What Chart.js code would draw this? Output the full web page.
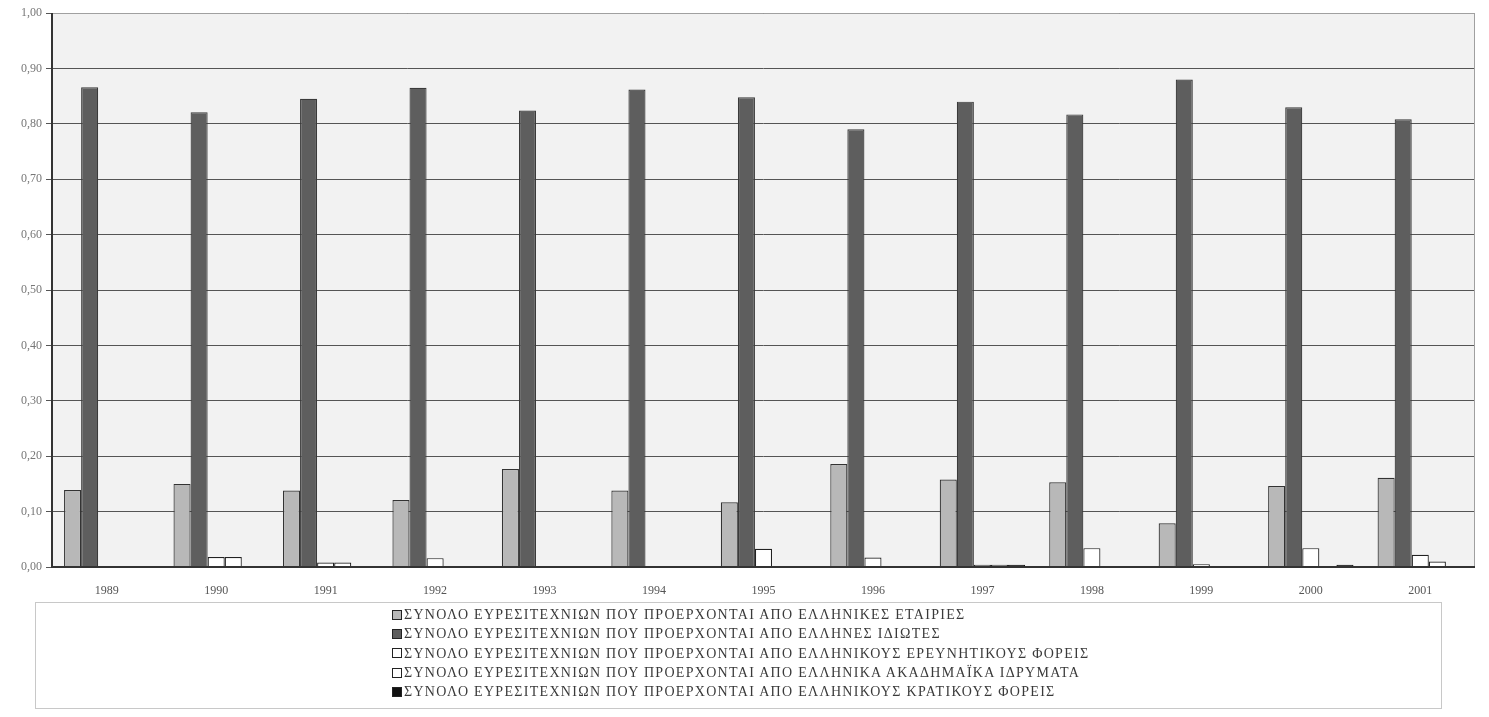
<!DOCTYPE html>
<html>
<head>
<meta charset="utf-8">
<script src="https://cdn.jsdelivr.net/npm/chart.js@4/dist/chart.umd.min.js"></script>
<style>
  html, body { margin:0; padding:0; background:#fff; }
  #wrap { position:relative; width:1489px; height:717px; }
  #c { position:absolute; left:0; top:0; }
  #legendBox { position:absolute; left:35px; top:602px; width:1407px; height:107px;
    border:1px solid #c8c8c8; box-sizing:border-box; }
  #legend { position:absolute; left:392px; top:605px; font-family:"Liberation Serif","DejaVu Serif",serif;
    font-size:14px; letter-spacing:1.3px; color:#3a3a3a; line-height:19.3px; }
  .row { white-space:nowrap; display:flex; align-items:center; height:19.3px; }
  .mk { width:8px; height:8px; border:1.6px solid #222; margin-right:2px; box-sizing:content-box; }
</style>
</head>
<body>
<div id="wrap">
  <canvas id="c" width="1489" height="717"></canvas>
  <div id="legendBox"></div>
  <div id="legend"></div>
</div>
<script>
const years = ["1989","1990","1991","1992","1993","1994","1995","1996","1997","1998","1999","2000","2001"];
const seriesNames = [
  "ΣΥΝΟΛΟ ΕΥΡΕΣΙΤΕΧΝΙΩΝ ΠΟΥ ΠΡΟΕΡΧΟΝΤΑΙ ΑΠΟ ΕΛΛΗΝΙΚΕΣ ΕΤΑΙΡΙΕΣ",
  "ΣΥΝΟΛΟ ΕΥΡΕΣΙΤΕΧΝΙΩΝ ΠΟΥ ΠΡΟΕΡΧΟΝΤΑΙ ΑΠΟ ΕΛΛΗΝΕΣ ΙΔΙΩΤΕΣ",
  "ΣΥΝΟΛΟ ΕΥΡΕΣΙΤΕΧΝΙΩΝ ΠΟΥ ΠΡΟΕΡΧΟΝΤΑΙ ΑΠΟ ΕΛΛΗΝΙΚΟΥΣ ΕΡΕΥΝΗΤΙΚΟΥΣ ΦΟΡΕΙΣ",
  "ΣΥΝΟΛΟ ΕΥΡΕΣΙΤΕΧΝΙΩΝ ΠΟΥ ΠΡΟΕΡΧΟΝΤΑΙ ΑΠΟ ΕΛΛΗΝΙΚΑ ΑΚΑΔΗΜΑΪΚΑ ΙΔΡΥΜΑΤΑ",
  "ΣΥΝΟΛΟ ΕΥΡΕΣΙΤΕΧΝΙΩΝ ΠΟΥ ΠΡΟΕΡΧΟΝΤΑΙ ΑΠΟ ΕΛΛΗΝΙΚΟΥΣ ΚΡΑΤΙΚΟΥΣ ΦΟΡΕΙΣ"
];
const companies   = [0.139,0.150,0.138,0.121,0.177,0.138,0.117,0.186,0.158,0.153,0.079,0.146,0.161];
const individuals = [0.866,0.821,0.845,0.865,0.824,0.862,0.848,0.790,0.840,0.817,0.880,0.830,0.808];
const research    = [0.000,0.018,0.008,0.016,0.000,0.000,0.033,0.017,0.004,0.034,0.005,0.034,0.022];
const academic    = [0.000,0.018,0.008,0.000,0.000,0.000,0.000,0.000,0.004,0.000,0.000,0.000,0.010];
const state       = [0.000,0.000,0.000,0.000,0.000,0.000,0.000,0.000,0.004,0.000,0.000,0.004,0.000];
const yTicks = [0,0.1,0.2,0.3,0.4,0.5,0.6,0.7,0.8,0.9,1.0];

const fills   = ["#b8b8b8","#5e5e5e","#ffffff","#ffffff","#111111"];
const borders = ["#333333","#3a3a3a","#222222","#222222","#111111"];
const values  = [companies, individuals, research, academic, state];

const bgPlugin = {
  id:'bg',
  beforeDraw(chart){
    const {ctx, chartArea:a} = chart;
    ctx.save();
    ctx.fillStyle = '#f2f2f2';
    ctx.fillRect(a.left, a.top, a.right-a.left, a.bottom-a.top);
    ctx.restore();
  },
  afterDatasetsDraw(chart){
    const {ctx, chartArea:a} = chart;
    ctx.save();
    ctx.strokeStyle = '#a0a0a0'; ctx.lineWidth = 1;
    ctx.beginPath();
    ctx.moveTo(a.left, a.top+0.5); ctx.lineTo(a.right, a.top+0.5);
    ctx.moveTo(a.right-0.5, a.top); ctx.lineTo(a.right-0.5, a.bottom);
    ctx.stroke();
    ctx.strokeStyle = '#333'; ctx.lineWidth = 2;
    ctx.beginPath();
    ctx.moveTo(a.left, a.top); ctx.lineTo(a.left, a.bottom);
    ctx.lineTo(a.right, a.bottom);
    ctx.stroke();
    ctx.restore();
  }
};

const chart = new Chart(document.getElementById('c'), {
  type:'bar',
  data:{
    labels: years,
    datasets: seriesNames.map((n,i)=>({
      label:n, data:values[i], backgroundColor:fills[i], borderColor:borders[i],
      borderWidth:1.2, barPercentage:1.0, categoryPercentage:0.78
    }))
  },
  options:{
    responsive:false, animation:false,
    layout:{ padding:{ left:0, right:14, top:13, bottom:0 } },
    plugins:{ legend:{ display:false }, tooltip:{ enabled:false } },
    scales:{
      x:{
        grid:{ display:false, drawTicks:false },
        border:{ display:false },
        ticks:{ color:'#555', padding:17, font:{ family:'"Liberation Serif", serif', size:12 } },
        afterFit(s){ s.height = 150; }
      },
      y:{
        min:0, max:1,
        afterBuildTicks(s){ s.ticks = yTicks.map(v=>({value:v})); },
        grid:{ color:'#555', lineWidth:1, tickLength:6, drawOnChartArea:true },
        border:{ display:false },
        ticks:{ color:'#777', padding:4, font:{ family:'"Liberation Serif", serif', size:12 },
          callback:(v)=> Number(v).toFixed(2).replace('.',',') },
        afterFit(s){ s.width = 52; }
      }
    }
  },
  plugins:[bgPlugin]
});

const leg = document.getElementById('legend');
chart.data.datasets.forEach((d)=>{
  const r = document.createElement('div'); r.className='row';
  const m = document.createElement('span'); m.className='mk';
  m.style.background = d.backgroundColor;
  const t = document.createElement('span'); t.textContent = d.label;
  r.appendChild(m); r.appendChild(t); leg.appendChild(r);
});
</script>
</body>
</html>
